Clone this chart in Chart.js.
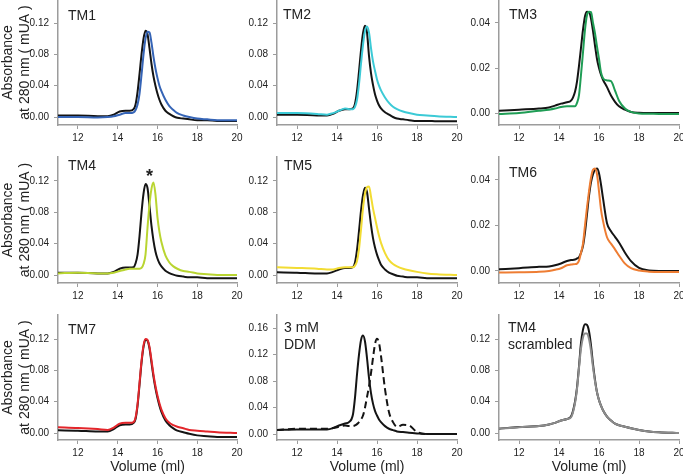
<!DOCTYPE html>
<html><head><meta charset="utf-8">
<script src="https://cdn.jsdelivr.net/npm/chart.js@4.4.1/dist/chart.umd.min.js"></script>
<style>
html,body{margin:0;padding:0;background:#fff;}
body{width:683px;height:476px;overflow:hidden;position:relative;}
canvas{position:absolute;}
</style></head>
<body>
<script>
// ---------- DATA ----------
const volume = [11, 12, 13, 13.5, 13.8, 14.1, 14.4, 14.6, 14.8, 14.9, 15.0, 15.1, 15.2, 15.3, 15.4, 15.5, 15.6, 15.7, 15.8, 15.9, 16.0, 16.1, 16.2, 16.4, 16.6, 16.8, 17.0, 17.3, 17.6, 18.0, 18.5, 19.0, 20.0];

const tm1Ref = [.002,.002,.001,.001,.003,.007,.008,.008,.010,.016,.032,.055,.080,.100,.110,.106,.088,.068,.052,.040,.030,.022,.016,.008,.004,.001,-.001,-.002,-.003,-.004,-.004,-.005,-.005];
const tm1    = [0,0,-.0005,0,.001,.003,.005,.005,.006,.009,.016,.030,.054,.080,.100,.109,.108,.095,.077,.062,.050,.040,.033,.022,.014,.009,.005,.002,0,-.002,-.003,-.004,-.004];

const tm2Ref = [.003,.003,.002,.002,.004,.008,.010,.010,.011,.017,.033,.058,.085,.107,.1165,.108,.078,.056,.041,.029,.021,.015,.011,.006,.003,0,-.002,-.003,-.004,-.005,-.005,-.0055,-.0055];
const tm2    = [.005,.005,.004,.003,.005,.008,.011,.010,.010,.013,.022,.042,.068,.092,.110,.1157,.108,.088,.071,.059,.048,.040,.034,.025,.018,.013,.010,.007,.005,.003,.002,.001,0];

const tm3Ref = [.001,.0015,.002,.0025,.0033,.0042,.0048,.0055,.0095,.014,.021,.029,.037,.043,.045,.0448,.042,.0365,.030,.024,.020,.017,.0148,.0115,.0078,.005,.003,.0015,.0005,.0001,0,0,0];
const tm3    = [-.0004,0,.001,.0015,.002,.0027,.003,.003,.003,.0045,.008,.017,.027,.037,.0435,.045,.0448,.040,.0354,.0295,.024,.018,.0155,.0145,.0142,.010,.0055,.002,.0005,-.0002,-.0003,-.0004,-.0004];

const tm4Ref = [.003,.003,.002,.002,.004,.008,.0095,.0095,.010,.015,.026,.050,.080,.104,.116,.111,.088,.063,.044,.030,.021,.015,.011,.0055,.0025,.0005,-.001,-.002,-.003,-.003,-.004,-.004,-.004];
const tm4    = [.002,.003,.002,.002,.003,.005,.007,.008,.008,.008,.008,.008,.009,.014,.026,.060,.090,.110,.118,.103,.074,.055,.042,.025,.016,.011,.008,.005,.004,.002,.001,0,0];

const tm5Ref = [.0034,.003,.002,.002,.004,.007,.009,.009,.010,.016,.032,.056,.082,.102,.1115,.106,.085,.064,.047,.035,.026,.019,.013,.007,.003,.001,-.001,-.002,-.003,-.003,-.004,-.004,-.004];
const tm5    = [.0098,.009,.008,.007,.007,.009,.010,.010,.010,.012,.018,.033,.058,.085,.104,.112,.113,.100,.085,.073,.061,.050,.041,.028,.019,.014,.011,.008,.006,.004,.002,.001,0];

const tm6Ref = [.0007,.0012,.0018,.002,.0025,.0033,.0044,.0048,.005,.0055,.006,.008,.011,.017,.025,.033,.039,.0425,.0445,.045,.043,.038,.032,.021,.0175,.015,.0125,.008,.0043,.0013,.0002,0,0];
const tm6    = [-.0007,-.0006,-.0004,0,.0005,.0012,.0025,.0028,.003,.0032,.0045,.008,.012,.020,.028,.035,.041,.0445,.045,.0425,.035,.027,.022,.0148,.012,.0095,.0068,.0032,.0012,.0002,-.0003,-.0005,-.0005];

const tm7Ref = [.0034,.003,.002,.002,.005,.010,.011,.011,.013,.018,.035,.062,.090,.110,.119,.118,.108,.090,.072,.057,.045,.035,.027,.016,.010,.006,.003,.001,-.001,-.003,-.004,-.005,-.005];
const tm7    = [.0073,.0064,.005,.004,.007,.012,.013,.013,.014,.020,.037,.064,.092,.112,.120,.119,.110,.093,.075,.060,.048,.038,.030,.019,.013,.010,.008,.006,.004,.003,.002,.001,0];

const ddmSolid  = [.006,.007,.007,.007,.009,.013,.016,.018,.030,.055,.090,.120,.142,.149,.140,.115,.085,.062,.046,.035,.028,.022,.018,.012,.008,.006,.004,.003,.002,.001,0,0,0];
const ddmDashed = [.006,.008,.008,.008,.009,.011,.013,.012,.012,.013,.015,.018,.022,.028,.040,.056,.072,.092,.115,.136,.144,.138,.118,.068,.033,.018,.011,.014,.013,.003,0,0,0];

const scrRef = [.0055,.0077,.009,.011,.013,.016,.018,.021,.040,.058,.085,.115,.132,.139,.138,.130,.112,.088,.068,.052,.042,.035,.029,.021,.016,.012,.010,.008,.006,.004,.002,.001,0];
const scr    = [.0055,.0075,.009,.011,.013,.016,.018,.020,.038,.056,.083,.108,.122,.127,.127,.120,.105,.084,.066,.052,.042,.035,.029,.021,.016,.012,.010,.008,.006,.004,.002,.001,0];

const xTickValues = [12, 14, 16, 18, 20];
const yTicksMain = [0, 0.04, 0.08, 0.12];
const yTicksSmall = [0, 0.02, 0.04];
const yTicksDDM = [0, 0.04, 0.08, 0.12, 0.16];

const panelNames = [['TM1'], ['TM2'], ['TM3'], ['TM4'], ['TM5'], ['TM6'], ['TM7'], ['3 mM', 'DDM'], ['TM4', 'scrambled']];
const yTitle = ['Absorbance', 'at 280 nm ( mUA )'];
const xTitle = 'Volume (ml)';

// ---------- STYLE / LAYOUT ----------
const FONT = '"Liberation Sans", Arial, Helvetica, sans-serif';
const BLACK = '#141414';
const AXIS = '#9c9c9c';
const TEXT = '#222';

const cols = [
  {left: 0,   width: 245, axisX: 58,  plotRight: 237},
  {left: 240, width: 225, axisX: 277, plotRight: 457},
  {left: 462, width: 221, axisX: 499, plotRight: 679}
];
const rows = [
  {top: 0,   height: 150, plotTop: 0,   plotBottom: 125},
  {top: 150, height: 155, plotTop: 157, plotBottom: 283},
  {top: 305, height: 171, plotTop: 315, plotBottom: 440}
];

const panels = [
  {series: [[tm1, '#3564b6'], [tm1Ref, BLACK]], yr: [-0.0102, 0.1494], yt: yTicksMain, dx: 10, dy: 16},
  {series: [[tm2, '#3ccad6'], [tm2Ref, BLACK]], yr: [-0.0102, 0.1494], yt: yTicksMain, dx: 6, dy: 15.5},
  {series: [[tm3, '#1f9d55'], [tm3Ref, BLACK]], yr: [-0.0053, 0.0502], yt: yTicksSmall, dx: 10, dy: 15},
  {series: [[tm4, '#b9d531'], [tm4Ref, BLACK]], yr: [-0.0102, 0.1506], yt: yTicksMain, dx: 10, dy: 9, mark: {x: 15.6, y: 0.119}},
  {series: [[tm5, '#f2dc33'], [tm5Ref, BLACK]], yr: [-0.0102, 0.1506], yt: yTicksMain, dx: 7, dy: 8.7},
  {series: [[tm6, '#ee7d33'], [tm6Ref, BLACK]], yr: [-0.0053, 0.0501], yt: yTicksSmall, dx: 10, dy: 16},
  {series: [[tm7, '#e3262b'], [tm7Ref, BLACK]], yr: [-0.0089, 0.1507], yt: yTicksMain, dx: 10, dy: 15},
  {series: [[ddmSolid, BLACK], [ddmDashed, BLACK, [7, 4]]], yr: [-0.009, 0.18], yt: yTicksDDM, dx: 7, dy: 13},
  {series: [[scr, '#8c8c8c'], [scrRef, BLACK]], yr: [-0.0089, 0.1507], yt: yTicksMain, dx: 9, dy: 13}
];

const labelPlugin = {
  id: 'panelLabel',
  afterDraw(chart, args, o) {
    const {ctx, chartArea} = chart;
    ctx.save();
    ctx.fillStyle = TEXT;
    ctx.font = '14px ' + FONT;
    ctx.textAlign = 'left';
    ctx.textBaseline = 'middle';
    o.lines.forEach((t, i) => ctx.fillText(t, chartArea.left + o.dx, chartArea.top + o.dy + i * 17));
    if (o.mark) {
      ctx.font = 'bold 18px ' + FONT;
      ctx.textAlign = 'center';
      ctx.textBaseline = 'alphabetic';
      ctx.fillText('*', chart.scales.x.getPixelForValue(o.mark.x), chart.scales.y.getPixelForValue(o.mark.y));
    }
    ctx.restore();
  }
};

panels.forEach((p, idx) => {
  const c = cols[idx % 3], r = rows[Math.floor(idx / 3)];
  const ci = idx % 3, ri = Math.floor(idx / 3);
  const cv = document.createElement('canvas');
  cv.width = c.width; cv.height = r.height;
  cv.style.left = c.left + 'px'; cv.style.top = r.top + 'px';
  document.body.appendChild(cv);
  const yw = c.axisX - c.left;
  const xh = r.top + r.height - r.plotBottom;
  const datasets = p.series.map(([vals, color, dash]) => ({
    data: volume.map((v, i) => ({x: v, y: vals[i]})),
    borderColor: color,
    borderWidth: 2,
    borderDash: dash || [],
    pointRadius: 0,
    fill: false,
    cubicInterpolationMode: 'monotone'
  }));
  new Chart(cv, {
    type: 'line',
    data: {datasets},
    plugins: [labelPlugin],
    options: {
      responsive: false, animation: false, devicePixelRatio: 1,
      layout: {padding: {top: r.plotTop - r.top, right: c.left + c.width - c.plotRight, left: 0, bottom: 0}},
      plugins: {legend: {display: false}, tooltip: {enabled: false},
        panelLabel: {lines: panelNames[idx], dx: p.dx, dy: p.dy, mark: p.mark}},
      scales: {
        x: {
          type: 'linear', min: 11, max: 20,
          afterBuildTicks: s => { s.ticks = xTickValues.map(v => ({value: v})); },
          afterFit: s => { s.height = xh; s.paddingLeft = 0; s.paddingRight = 0; },
          grid: {drawOnChartArea: false, drawTicks: true, tickLength: 4, color: AXIS, lineWidth: 1},
          border: {display: true, color: AXIS, width: 1.5},
          ticks: {font: {family: FONT, size: 10}, color: TEXT, padding: 3, maxRotation: 0, autoSkip: false},
          title: {display: ri === 2, text: xTitle, color: TEXT, font: {family: FONT, size: 14}, padding: {top: 0, bottom: 0}}
        },
        y: {
          type: 'linear', min: p.yr[0], max: p.yr[1],
          afterBuildTicks: s => { s.ticks = p.yt.map(v => ({value: v})); },
          afterFit: s => { s.width = yw; s.paddingTop = 0; s.paddingBottom = 0; },
          grid: {drawOnChartArea: false, drawTicks: true, tickLength: 4, color: AXIS, lineWidth: 1},
          border: {display: true, color: AXIS, width: 1.5},
          ticks: {font: {family: FONT, size: 10}, color: TEXT, padding: 5, callback: v => v.toFixed(2)},
          title: {display: ci === 0, text: yTitle, color: TEXT, font: {family: FONT, size: 14, lineHeight: 1.2}, padding: {top: 0, bottom: 0}}
        }
      }
    }
  });
});
</script>
</body></html>
